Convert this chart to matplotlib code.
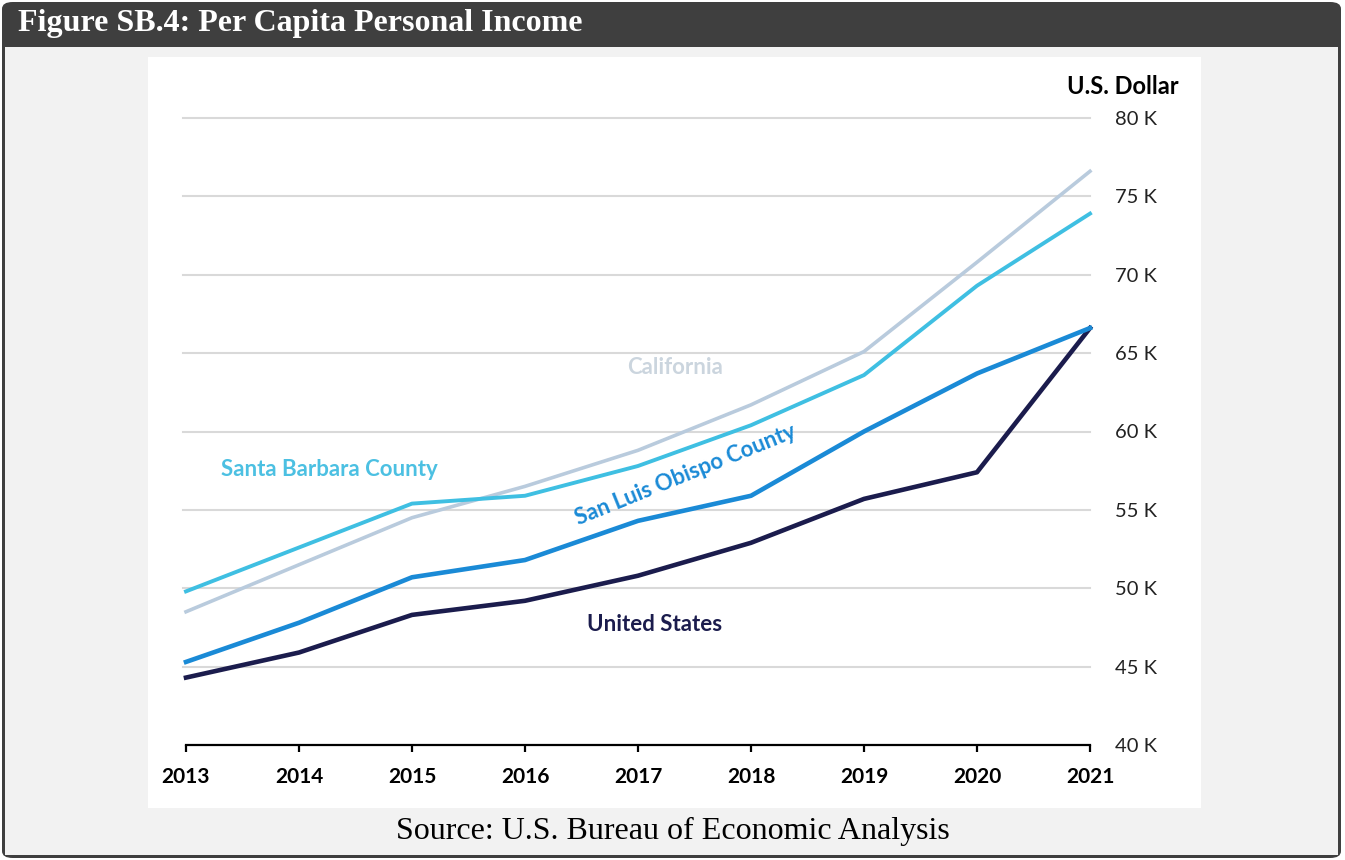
import matplotlib.pyplot as plt
from matplotlib.patches import FancyBboxPatch, Rectangle

years = [2013, 2014, 2015, 2016, 2017, 2018, 2019, 2020, 2021]

# per capita personal income, thousands of US dollars
california = [48.5, 51.5, 54.5, 56.5, 58.8, 61.7, 65.1, 70.8, 76.6]
santa_barbara = [49.8, 52.6, 55.4, 55.9, 57.8, 60.4, 63.6, 69.3, 73.9]
san_luis_obispo = [45.3, 47.8, 50.7, 51.8, 54.3, 55.9, 60.0, 63.7, 66.6]
united_states = [44.3, 45.9, 48.3, 49.2, 50.8, 52.9, 55.7, 57.4, 66.6]

y_ticks = [40, 45, 50, 55, 60, 65, 70, 75, 80]
y_tick_labels = [f'{v} K' for v in y_ticks]

W, H = 1345, 860
fig = plt.figure(figsize=(W / 100, H / 100), dpi=100)
fig.patch.set_facecolor('white')

def fx(px):
    return px / W

def fy(py):
    return 1 - py / H

# frame: dark border + header, light panel, white chart area
fig.patches.append(FancyBboxPatch((fx(2), fy(858)), fx(1341) - fx(2), fy(2) - fy(858),
                                  boxstyle='round,pad=0,rounding_size=0.008',
                                  transform=fig.transFigure, facecolor='#3f3f3f',
                                  edgecolor='none', zorder=0))
fig.patches.append(Rectangle((fx(5), fy(855)), fx(1338) - fx(5), fy(47) - fy(855),
                             transform=fig.transFigure, facecolor='#f2f2f2',
                             edgecolor='none', zorder=0.5))
fig.patches.append(Rectangle((fx(148), fy(808)), fx(1201) - fx(148), fy(57) - fy(808),
                             transform=fig.transFigure, facecolor='white',
                             edgecolor='none', zorder=0.6))

fig.text(fx(18), fy(23), 'Figure SB.4: Per Capita Personal Income', color='white',
         fontsize=23, fontweight='bold', family='Liberation Serif', va='center', ha='left')
fig.text(fx(673), fy(831), 'Source: U.S. Bureau of Economic Analysis', color='black',
         fontsize=23, family='Liberation Serif', va='center', ha='center')

ax = fig.add_axes([fx(186), fy(745), fx(1090) - fx(186), fy(118) - fy(745)])
ax.set_zorder(2)
ax.set_facecolor('none')
ax.set_xlim(2013, 2021)
ax.set_ylim(40, 80)

for v in y_ticks[1:]:
    ax.plot([2012.97, 2021], [v, v], color='#d9d9d9', lw=1.5, zorder=1, clip_on=False)

ax.plot(years, california, color='#b9cbdd', lw=2.6, zorder=2, clip_on=False)
ax.plot(years, santa_barbara, color='#3fbfe2', lw=2.8, zorder=3, clip_on=False)
ax.plot(years, united_states, color='#1b1c4d', lw=3.3, zorder=4, clip_on=False)
ax.plot(years, san_luis_obispo, color='#1a8ad6', lw=3.3, zorder=5, clip_on=False)

# series labels placed next to their lines
lab = dict(family='Lato', fontweight='bold', fontsize=16, ha='center', va='center')
ax.text(2017.33, 64.1, 'California', color='#cbd5de', **lab)
ax.text(2014.27, 57.6, 'Santa Barbara County', color='#4cc0e2', **lab)
ax.text(2017.42, 57.2, 'San Luis Obispo County', color='#1a8ad6',
        rotation=22, rotation_mode='anchor', **lab)
ax.text(2017.15, 47.66, 'United States', color='#1b1c4d', **lab)

for s in ['top', 'left', 'right']:
    ax.spines[s].set_visible(False)
ax.spines['bottom'].set_color('black')
ax.spines['bottom'].set_linewidth(1.6)

ax.set_xticks(years)
ax.set_xticklabels([str(y) for y in years], family='Lato', fontweight='bold', fontsize=15)
ax.tick_params(axis='x', length=5, width=1.6, pad=11, color='black')

ax.yaxis.tick_right()
ax.set_yticks(y_ticks)
ax.set_yticklabels(y_tick_labels, family='Lato', fontsize=14.5, color='#222222')
ax.tick_params(axis='y', length=0, pad=18)

fig.text(fx(1179), fy(87), 'U.S. Dollar', ha='right', va='center',
         family='Lato', fontweight='bold', fontsize=17, zorder=3)

fig.savefig('out.png', dpi=100)
